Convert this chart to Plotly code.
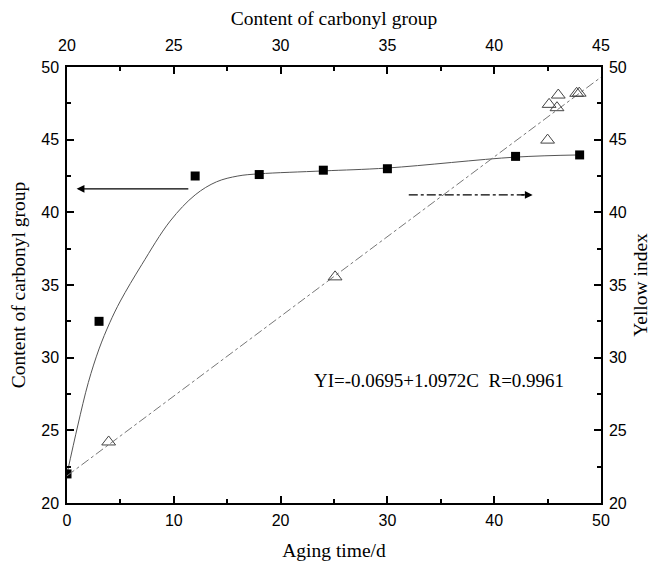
import plotly.graph_objects as go

# Squares: aging time (d) vs content of carbonyl group (left axis)
aging_days = [0, 3, 12, 18, 24, 30, 42, 48]
carbonyl = [22.0, 32.5, 42.5, 42.6, 42.9, 43.0, 43.85, 43.95]

# Smooth fitted curve through squares
curve_days = [0, 1, 2, 3, 4, 5, 7, 9.66, 12, 14, 16, 18, 24, 30, 42, 48]
curve_carbonyl = [22.0, 25.3, 28.3, 30.6, 32.4, 33.9, 36.4, 39.4, 41.2, 42.1, 42.5, 42.65, 42.85, 43.05, 43.8, 43.95]

# Triangles: content of carbonyl group (top axis) vs yellow index (right axis)
tri_carbonyl = [21.95, 32.55, 42.5, 42.57, 42.94, 43.0, 43.86, 43.98]
tri_yellow = [24.2, 35.56, 44.97, 47.43, 47.2, 48.07, 48.19, 48.2]

# Linear fit line (top axis vs right axis)
fit_carbonyl = [20, 45]
fit_yellow = [21.87, 49.30]

serif = "Liberation Serif, Times New Roman, serif"
sans = "Liberation Sans, Arial, sans-serif"

fig = go.Figure()

fig.add_trace(go.Scatter(x=curve_days, y=curve_carbonyl, mode="lines",
                         line=dict(color="#555555", width=1, shape="spline", smoothing=1.0),
                         xaxis="x", yaxis="y", showlegend=False, hoverinfo="skip"))
fig.add_trace(go.Scatter(x=aging_days, y=carbonyl, mode="markers",
                         marker=dict(symbol="square", size=9, color="black"),
                         xaxis="x", yaxis="y", showlegend=False))
fig.add_trace(go.Scatter(x=fit_carbonyl, y=fit_yellow, mode="lines",
                         line=dict(color="#777777", width=1, dash="dashdot"),
                         xaxis="x2", yaxis="y2", showlegend=False, hoverinfo="skip"))
fig.add_trace(go.Scatter(x=tri_carbonyl, y=tri_yellow, mode="markers",
                         marker=dict(symbol="triangle-up-open", size=12, color="#444444",
                                     line=dict(width=1)),
                         xaxis="x2", yaxis="y2", showlegend=False))

base = dict(showgrid=False, zeroline=False, showline=True, linecolor="black", automargin=False,
            linewidth=1.5, ticks="inside", ticklen=7, tickwidth=1.5, tickcolor="black",
            tickfont=dict(family=sans, size=16, color="black"))
title_font = dict(family=serif, size=19.5, color="black")


def minor(d):
    return dict(dtick=d, ticks="inside", ticklen=4, tickwidth=1.5, tickcolor="black")


fig.update_layout(
    width=654, height=566,
    margin=dict(l=67, r=53, t=67, b=63),
    paper_bgcolor="white", plot_bgcolor="white",
    xaxis=dict(range=[0, 50], dtick=10, tick0=0, minor=minor(5), ticklabelstandoff=2,
               title=dict(text="Aging time/d", font=title_font, standoff=15), **base),
    yaxis=dict(range=[20, 50], dtick=5, tick0=20, minor=minor(2.5), ticklabelstandoff=3,
               title=dict(text="Content of carbonyl group", font=title_font, standoff=10), **base),
    xaxis2=dict(range=[20, 45], dtick=5, tick0=20, overlaying="x", side="top", minor=minor(2.5),
                ticklabelstandoff=8,
                title=dict(text="Content of carbonyl group", font=title_font, standoff=6), **base),
    yaxis2=dict(range=[20, 50], dtick=5, tick0=20, overlaying="y", side="right", minor=minor(2.5),
                ticklabelstandoff=3,
                title=dict(text="Yellow index", font=title_font, standoff=8), **base),
)

# Left arrow (solid) pointing to the left axis
fig.add_annotation(x=0.9, y=41.62, ax=11.5, ay=41.62, xref="x", yref="y", axref="x", ayref="y",
                   showarrow=True, arrowhead=2, arrowsize=1.3, arrowwidth=1.2, arrowcolor="black", text="")
# Right arrow (dash-dot) pointing to the right axis
fig.add_shape(type="line", x0=32.0, y0=41.2, x1=42.8, y1=41.2, xref="x", yref="y",
              line=dict(color="black", width=1.2, dash="dashdot"))
fig.add_annotation(x=43.6, y=41.2, ax=42.4, ay=41.2, xref="x", yref="y", axref="x", ayref="y",
                   showarrow=True, arrowhead=2, arrowsize=1.3, arrowwidth=1.2, arrowcolor="black", text="")

fig.add_annotation(x=22.9, y=28.4, xref="x", yref="y", xanchor="left", yanchor="middle",
                   text="YI=-0.0695+1.0972C  R=0.9961", showarrow=False,
                   font=dict(family=serif, size=19, color="black"))

fig.write_html("out.html")
